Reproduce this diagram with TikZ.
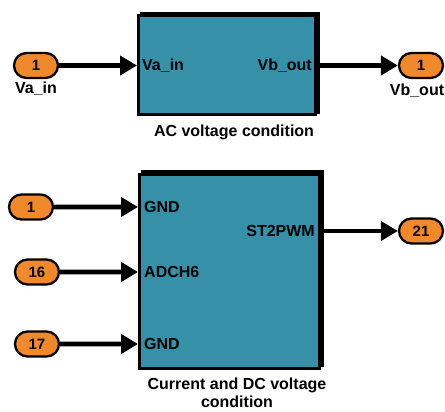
\documentclass[tikz,border=0pt]{standalone}
\usepackage{fontspec}
\setmainfont{Liberation Sans}
\usetikzlibrary{arrows.meta,positioning,calc,shapes.misc,backgrounds}
\definecolor{blkteal}{HTML}{3590A8}
\definecolor{portorange}{HTML}{F0892B}
\definecolor{cursorred}{HTML}{D0602E}
\tikzset{
  blk/.style={draw=black,line width=3pt,fill=blkteal,inner sep=0pt},
  port/.style={draw=black,line width=2.3pt,fill=portorange,rounded rectangle,
               minimum width=44pt,minimum height=25pt,inner sep=0pt,
               font=\bfseries\fontsize{15}{17}\selectfont},
  lbl/.style={font=\bfseries\fontsize{16}{18}\selectfont,inner sep=0pt,align=center},
  arr/.style={-{Triangle[length=17pt,width=19pt]},line width=4.8pt},
}

\begin{document}
\begin{tikzpicture}[x=1pt,y=-1pt]
  \useasboundingbox (0,0) rectangle (445,412);

  % AC voltage condition
  \node[blk,minimum width=177pt,minimum height=99pt] (ac) at (227,65.5) {};
  \node[lbl,right=5pt of ac.west] (acin) {Va\_in};
  \node[lbl,left=5pt of ac.east] (acout) {Vb\_out};
  \node[lbl] (accap) at (234,132) {AC voltage condition};

  \node[port] (in1) at (36,65.5) {1};
  \node[lbl,below=3pt of in1] (in1l) {Va\_in};
  \node[port] (out1) at (421,65.5) {1};
  \node[lbl] (out1l) at (417,91) {Vb\_out};

  % Current and DC voltage condition
  \node[blk,minimum width=180pt,minimum height=194pt] (cd) at (229.5,271) {};
  \node[port] (p1) at (31,207) {1};
  \node[port] (p16) at (37,272) {16};
  \node[port] (p17) at (37,344) {17};
  \node[port] (p21) at (421,231) {21};
  \node[lbl,anchor=west] (gnda) at ([xshift=6pt]cd.west |- p1) {GND};
  \node[lbl,anchor=west] (adc) at ([xshift=6pt]cd.west |- p16) {ADCH6};
  \node[lbl,anchor=west] (gndb) at ([xshift=6pt]cd.west |- p17) {GND};
  \node[lbl,anchor=east] (pwm) at ([xshift=-6pt]cd.east |- p21) {ST2PWM};
  \node[lbl] (cdcap) at (237,393) {Current and DC voltage\\condition};
  \draw[cursorred,line width=0.7pt] ([xshift=1.5pt]gnda.north east) -- ([xshift=1.5pt]gnda.south east);

  % drop shadows
  \begin{scope}[on background layer]
    \fill ($(ac.south west)+(2.5,-2.5)$) rectangle ($(ac.north east)+(2.5,-2.5)$);
    \fill ($(cd.south west)+(2.5,-2.5)$) rectangle ($(cd.north east)+(2.5,-2.5)$);
  \end{scope}

  \draw[arr] (in1) -- (in1 -| ac.west);
  \draw[arr] (ac.east) -- (out1);
  \foreach \p in {p1,p16,p17}{\draw[arr] (\p) -- (\p -| cd.west);}
  \draw[arr] (p21 -| cd.east) -- (p21);
\end{tikzpicture}
\end{document}
